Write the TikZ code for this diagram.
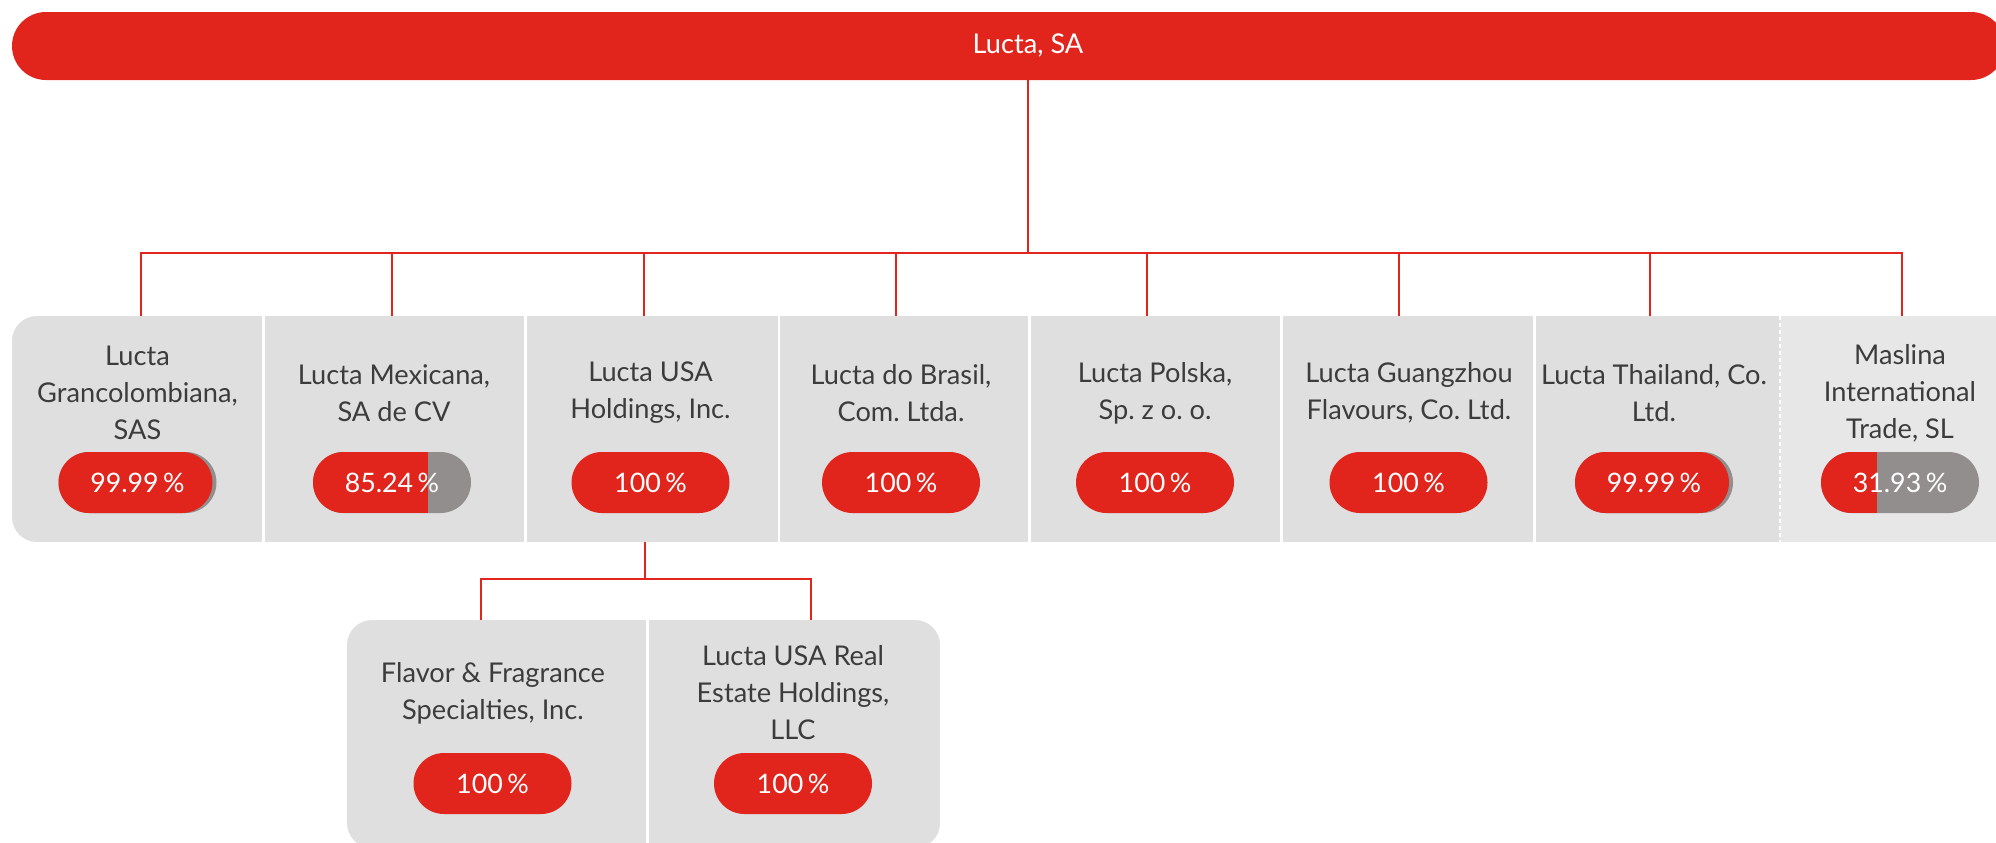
\documentclass[tikz,border=0pt]{standalone}
\usepackage{fontspec}
\setmainfont{Lato}
\frenchspacing
\definecolor{lred}{HTML}{E1251D}
\definecolor{cellg}{HTML}{E0DFE0}
\definecolor{celll}{HTML}{E8E7E8}
\definecolor{pillg}{HTML}{928E8D}
\definecolor{txt}{HTML}{3C3C3C}
\tikzset{
  conn/.style={draw=lred,line width=0.9pt},
  cell/.style={fill=#1,draw=none,inner sep=0pt,outer sep=0pt},
  nm/.style={text=txt,font=\fontsize{13.6}{18.5}\selectfont,align=center,inner sep=0pt},
  pill/.style={fill=lred,rounded corners=15.25pt,minimum width=79pt,minimum height=30.5pt,
    inner sep=0pt,text=white,font=\fontsize{13.4}{15}\selectfont},
  partfill/.style={fill=pillg,path picture={\fill[lred,sharp corners]
    (path picture bounding box.south west) rectangle ([xshift=#1]path picture bounding box.north west);}},
  almostfull/.style={fill=pillg,path picture={\fill[lred,rounded corners=15.25pt]
    (path picture bounding box.south west) rectangle ([xshift=-2pt]path picture bounding box.north east);}},
}
\begin{document}
\begin{tikzpicture}[x=0.5pt,y=-0.5pt]
\fill[white] (0,0) rectangle (1996,842);
\useasboundingbox (0,0) rectangle (1996,842);

% top bar
\fill[lred,rounded corners=17pt] (12,12) rectangle (2005,80);
\node[nm,text=white,minimum height=34pt] (root) at (1028,45) {Lucta, SA};

% first row cells
\begin{scope}
\clip[rounded corners=12.5pt] (12,316) rectangle (2020,542);
\node[cell=cellg,minimum width=125.1pt,minimum height=113pt] (b1) at (137.1,429) {};
\node[cell=cellg,minimum width=129.6pt,minimum height=113pt] (b2) at (394.4,429) {};
\node[cell=cellg,minimum width=125.55pt,minimum height=113pt] (b3) at (652.15,429) {};
\node[cell=cellg,minimum width=123.85pt,minimum height=113pt] (b4) at (904.15,429) {};
\node[cell=cellg,minimum width=124.7pt,minimum height=113pt] (b5) at (1155.3,429) {};
\node[cell=cellg,minimum width=125.2pt,minimum height=113pt] (b6) at (1407.8,429) {};
\node[cell=cellg,minimum width=122.2pt,minimum height=113pt] (b7) at (1657.8,429) {};
\node[cell=celll,minimum width=120pt,minimum height=113pt] (b8) at (1900,429) {};
\end{scope}
\draw[white,line width=1.2pt,dash pattern=on 2pt off 1.5pt] (b7.north east) -- (b7.south east);

% names
\node[nm] (n1) at (137.5,393) {Lucta\\Grancolombiana,\\SAS};
\node[nm] (n2) at (394,393) {Lucta Mexicana,\\SA de CV};
\node[nm] (n3) at (650.5,393) {Lucta USA\\Holdings, Inc.};
\node[nm] (n4) at (901,393) {Lucta do Brasil,\\Com. Ltda.};
\node[nm] (n5) at (1155,393) {Lucta Polska,\\Sp. z o. o.};
\node[nm] (n6) at (1409,393) {Lucta Guangzhou\\Flavours, Co. Ltd.};
\node[nm] (n7) at (1654,393) {Lucta Thailand, Co.\\Ltd.};
\node[nm] (n8) at (1900,393) {Maslina\\International\\Trade, SL};

% percentages
\node[pill,almostfull] (p1) at (137.5,482.5) {99.99\,\%};
\node[pill,partfill=57.5pt] (p2) at (392,482.5) {85.24\,\%};
\node[pill] (p3) at (650.5,482.5) {100\,\%};
\node[pill] (p4) at (901,482.5) {100\,\%};
\node[pill] (p5) at (1155,482.5) {100\,\%};
\node[pill] (p6) at (1408.5,482.5) {100\,\%};
\node[pill,almostfull] (p7) at (1654,482.5) {99.99\,\%};
\node[pill,partfill=28pt] (p8) at (1900,482.5) {31.93\,\%};

% connectors top
\coordinate (busy) at (0,253);
\coordinate (t1) at (141,316);
\coordinate (t2) at (392,316);
\coordinate (t3) at (644,316);
\coordinate (t4) at (896,316);
\coordinate (t5) at (1147,316);
\coordinate (t6) at (1399,316);
\coordinate (t7) at (1650,316);
\coordinate (t8) at (1902,316);
\draw[conn] (root.south) -- (root.south |- busy);
\draw[conn] (t1) -- (t1 |- busy) -- (t8 |- busy) -- (t8);
\foreach \i in {2,...,7} \draw[conn] (t\i |- busy) -- (t\i);

% second level
\coordinate (s3) at (645,542);
\coordinate (busy2) at (0,579);
\coordinate (u1) at (481,620);
\coordinate (u2) at (811,620);
\draw[conn] (s3) -- (s3 |- busy2);
\draw[conn] (u1) -- (u1 |- busy2) -- (u2 |- busy2) -- (u2);

\begin{scope}
\clip[rounded corners=12.5pt] (347,620) rectangle (940,848);
\node[cell=cellg,minimum width=149.6pt,minimum height=114pt] (c1) at (496.6,734) {};
\node[cell=cellg,minimum width=145.6pt,minimum height=114pt] (c2) at (794.4,734) {};
\end{scope}
\node[nm] (m1) at (493,693.5) {Flavor \& Fragrance\\Specialties, Inc.};
\node[nm] (m2) at (793,693) {Lucta USA Real\\Estate Holdings,\\LLC};
\node[pill] (q1) at (492.5,783.5) {100\,\%};
\node[pill] (q2) at (793,783.5) {100\,\%};
\end{tikzpicture}
\end{document}
